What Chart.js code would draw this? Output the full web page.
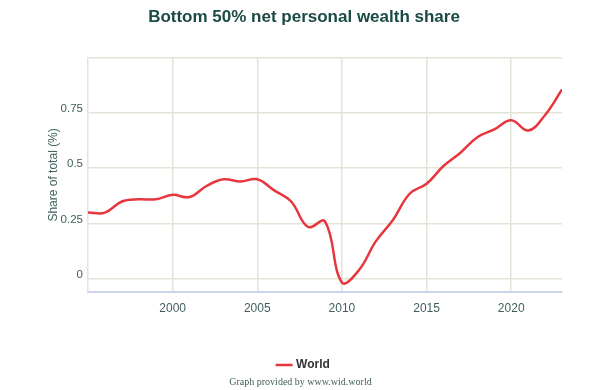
<!DOCTYPE html>
<html>
<head>
<meta charset="utf-8">
<script src="https://cdn.jsdelivr.net/npm/chart.js@4"></script>
<style>
  html, body { margin: 0; padding: 0; background: #fff; }
  #wrap { position: relative; width: 601px; height: 390px; }
  #credit { position: absolute; left: 0; width: 601px; top: 376px; text-align: center;
            font: 10px "Liberation Serif", "DejaVu Serif", serif; color: #3f5f5c; }
</style>
</head>
<body>
<div id="wrap">
  <canvas id="wealthChart" width="601" height="390"></canvas>
  <div id="credit">Graph provided by www.wid.world</div>
</div>
<script>
// Bottom 50% net personal wealth share, World
const years = [1995, 1996, 1997, 1998, 1999, 2000, 2001, 2002, 2003, 2004, 2005, 2006, 2007, 2008, 2009,
  2010, 2011, 2012, 2013, 2014, 2015, 2016, 2017, 2018, 2019, 2020, 2021, 2022, 2023];
const worldShare = [0.30, 0.30, 0.35, 0.36, 0.36, 0.38, 0.37, 0.42, 0.45, 0.44, 0.45, 0.40, 0.35, 0.235, 0.26,
  -0.015, 0.04, 0.17, 0.265, 0.385, 0.43, 0.51, 0.57, 0.64, 0.675, 0.716, 0.67, 0.74, 0.855];
const xTicks = [2000, 2005, 2010, 2015, 2020];
const yTicks = [0, 0.25, 0.5, 0.75, 1];

const gridColor = "#e3e3d8";
const tickColor = "#3f5f5c";
const fontFamily = "Liberation Sans, Arial, sans-serif";

document.addEventListener("DOMContentLoaded", () => {
  const ctx = document.getElementById("wealthChart").getContext("2d");
  new Chart(ctx, {
    type: "line",
    data: {
      datasets: [{
        label: "World",
        data: years.map((y, i) => ({ x: y, y: worldShare[i] })),
        borderColor: "#e8363f",
        backgroundColor: "#e8363f",
        borderWidth: 2.5,
        pointRadius: 0,
        tension: 0.4,
        fill: false,
      }],
    },
    options: {
      responsive: false,
      animation: false,
      layout: { padding: { left: 46, right: 39, bottom: 9, top: 0 } },
      plugins: {
        title: {
          display: true,
          text: "Bottom 50% net personal wealth share",
          color: "#1b4a44",
          font: { family: fontFamily, size: 17, weight: "bold" },
          padding: { top: 7, bottom: 30 },
        },
        legend: {
          position: "bottom",
          // empty legend title used only as a spacer above the item
          title: { display: true, text: " ", font: { size: 1 }, padding: { top: 27, bottom: 0 } },
          labels: {
            usePointStyle: true,
            pointStyle: "line",
            boxWidth: 12,
            color: "#333",
            font: { family: fontFamily, size: 12, weight: "bold" },
            padding: 6,
          },
        },
        tooltip: { enabled: false },
      },
      scales: {
        x: {
          type: "linear",
          min: 1995,
          max: 2023,
          afterBuildTicks: (axis) => { axis.ticks = xTicks.map(v => ({ value: v })); },
          grid: { color: gridColor, lineWidth: 1.5, drawTicks: false },
          border: { color: "#ccd6eb", width: 2 },
          ticks: {
            color: tickColor,
            padding: 9,
            font: { family: fontFamily, size: 12 },
            callback: (v) => String(v),
          },
        },
        y: {
          min: -0.06,
          max: 1,
          afterBuildTicks: (axis) => { axis.ticks = yTicks.map(v => ({ value: v })); },
          afterFit: (axis) => { axis.width = 42; },
          grid: { color: gridColor, lineWidth: 1.5, drawTicks: false },
          border: { color: gridColor, width: 1.5 },
          title: {
            display: true,
            text: "Share of total (%)",
            color: tickColor,
            font: { family: fontFamily, size: 12 },
            padding: { top: 0, bottom: 0 },
          },
          ticks: {
            color: tickColor,
            padding: 5,
            labelOffset: -4,
            font: { family: fontFamily, size: 11.5 },
            callback: (v) => (v === 1 ? "" : String(v)),
          },
        },
      },
    },
  });
});
</script>
</body>
</html>
